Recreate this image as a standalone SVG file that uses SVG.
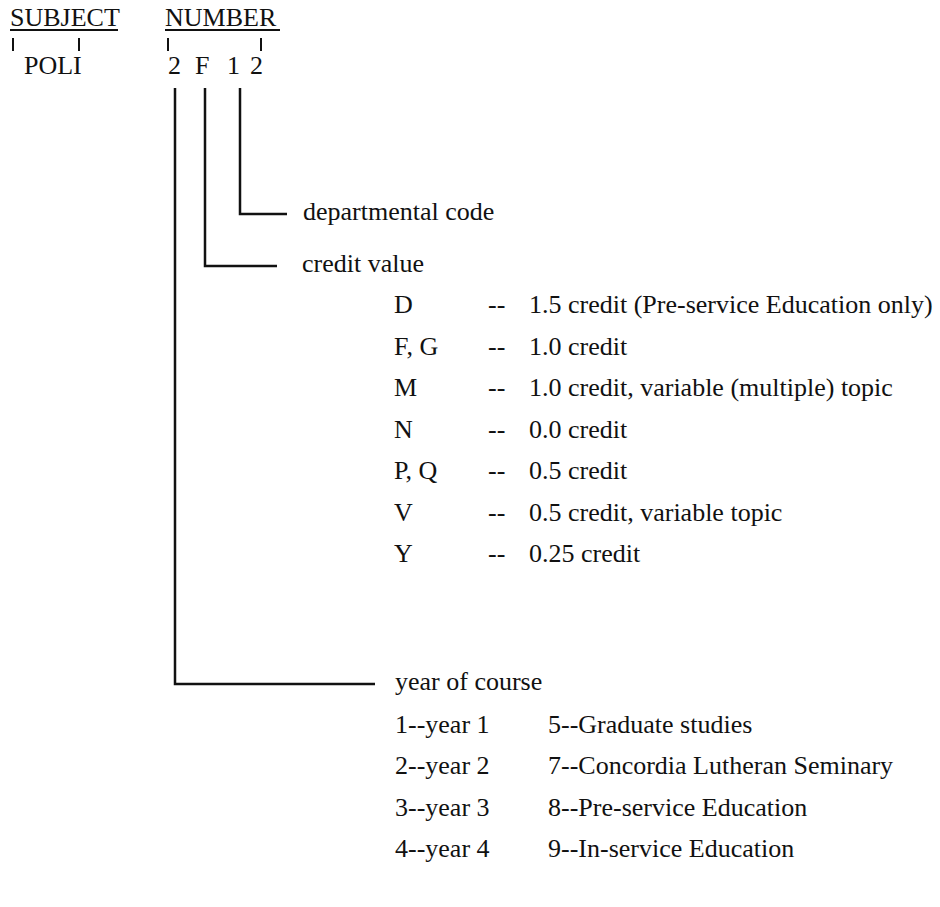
<svg xmlns="http://www.w3.org/2000/svg" width="940" height="907" viewBox="0 0 940 907">
<style>
text{font-family:"Liberation Serif","Times New Roman",serif;font-size:26px;fill:#111}
.ln{stroke:#111;stroke-width:2.5;fill:none}
.tk{stroke:#111;stroke-width:2;fill:none}
</style>
<rect width="940" height="907" fill="#fff"/>
<g id="header">
<text x="10" y="26">SUBJECT</text>
<line class="tk" x1="10" y1="30" x2="118" y2="30"/>
<text x="165" y="26">NUMBER</text>
<line class="tk" x1="165" y1="30" x2="280" y2="30"/>
<line class="tk" x1="13" y1="38" x2="13" y2="51"/>
<line class="tk" x1="79" y1="38" x2="79" y2="51"/>
<line class="tk" x1="168" y1="38" x2="168" y2="51"/>
<line class="tk" x1="261" y1="38" x2="261" y2="51"/>
<text x="24" y="74">POLI</text>
<text x="168" y="74">2</text>
<text x="195" y="74">F</text>
<text x="227" y="74">1</text>
<text x="250" y="74">2</text>
</g>
<g id="connectors">
<polyline class="ln" points="240,88 240,214 287,214"/>
<polyline class="ln" points="205,88 205,266 277,266"/>
<polyline class="ln" points="175,88 175,684 375,684"/>
</g>
<g id="dept"><text x="303" y="220">departmental code</text></g>
<g id="credit"><text x="302" y="272">credit value</text>
<text x="394" y="313">D</text><text x="488" y="313">--</text><text x="529" y="313">1.5 credit (Pre-service Education only)</text>
<text x="394" y="355">F, G</text><text x="488" y="355">--</text><text x="529" y="355">1.0 credit</text>
<text x="394" y="396">M</text><text x="488" y="396">--</text><text x="529" y="396">1.0 credit, variable (multiple) topic</text>
<text x="394" y="438">N</text><text x="488" y="438">--</text><text x="529" y="438">0.0 credit</text>
<text x="394" y="479">P, Q</text><text x="488" y="479">--</text><text x="529" y="479">0.5 credit</text>
<text x="394" y="521">V</text><text x="488" y="521">--</text><text x="529" y="521">0.5 credit, variable topic</text>
<text x="394" y="562">Y</text><text x="488" y="562">--</text><text x="529" y="562">0.25 credit</text>
</g>
<g id="year"><text x="395" y="690">year of course</text>
<text x="395" y="733">1--year 1</text><text x="548" y="733">5--Graduate studies</text>
<text x="395" y="774">2--year 2</text><text x="548" y="774">7--Concordia Lutheran Seminary</text>
<text x="395" y="816">3--year 3</text><text x="548" y="816">8--Pre-service Education</text>
<text x="395" y="857">4--year 4</text><text x="548" y="857">9--In-service Education</text>
</g>
</svg>
